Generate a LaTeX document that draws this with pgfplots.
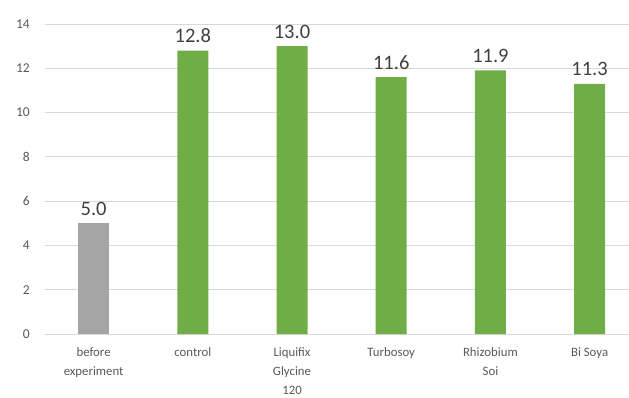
\documentclass[border=0pt]{standalone}
\usepackage{pgfplots}
\pgfplotsset{compat=1.18}
\usepackage{fontspec}
\setmainfont{Carlito}
\definecolor{barGreen}{HTML}{70AD47}
\definecolor{barGray}{HTML}{A5A5A5}
\definecolor{gridGray}{HTML}{D9D9D9}
\definecolor{tickGray}{HTML}{595959}
\definecolor{valGray}{HTML}{404040}
\begin{document}
\begin{tikzpicture}
\path[use as bounding box] (-45bp,-64bp) rectangle (584bp,334bp);
\begin{axis}[
  at={(0,0)}, anchor=south west,
  scale only axis, width=584bp, height=310bp,
  xmin=-0.49, xmax=5.397, ymin=0, ymax=14,
  ytick={0,2,...,14},
  xtick={0,...,5},
  xticklabels={before\\experiment, control, Liquifix\\Glycine\\120, Turbosoy, Rhizobium\\Soi, Bi Soya},
  axis line style={draw=none},
  ymajorgrids, grid style={gridGray, line width=0.9bp},
  major tick length=0pt,
  /pgf/number format/assume math mode=true,
  tick label style={font=\fontsize{12.8bp}{19bp}\selectfont, text=tickGray, inner sep=0pt},
  yticklabel style={anchor=east, xshift=-15bp, font=\fontsize{13.5bp}{16bp}\selectfont},
  xticklabel style={align=center, anchor=north, yshift=-13.5bp},
  ybar, bar width=31bp,
  nodes near coords={\pgfmathprintnumber[fixed,fixed zerofill,precision=1]{\pgfplotspointmeta}},
  nodes near coords style={font=\fontsize{20.5bp}{21bp}\selectfont, text=valGray, anchor=base, yshift=8bp, inner sep=0pt},
  clip=false,
]
\addplot[fill=barGray, draw=none, bar shift=0pt] coordinates {(0,5.0)};
\addplot[fill=barGreen, draw=none, bar shift=0pt] coordinates {(1,12.8) (2,13.0) (3,11.6) (4,11.9) (5,11.3)};
\end{axis}
\end{tikzpicture}
\end{document}
